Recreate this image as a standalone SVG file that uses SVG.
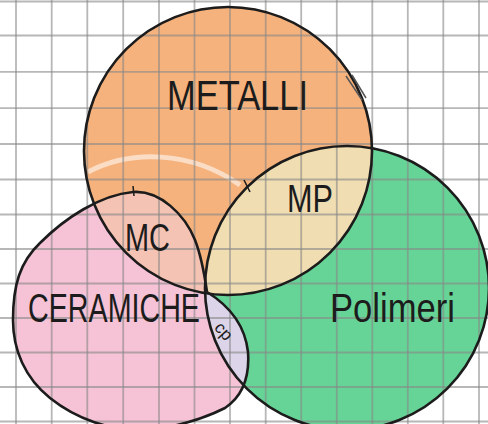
<svg xmlns="http://www.w3.org/2000/svg" width="488" height="424" viewBox="0 0 488 424">
  <defs>
    <style>
      .outline { fill: none; stroke: #1c1c1c; stroke-width: 2.6; stroke-linejoin: round; }
      .grid line { stroke: #888888; stroke-width: 1.8; opacity: 0.6; }
      .lbl { font-family: "Liberation Sans", "DejaVu Sans", sans-serif; fill: #1c1c1c; }
    </style>
    <path id="shapeC" d="M 13,320 C 13,285 20,262 40,243 C 65,218 100,195 133,192 C 160,190 185,215 195,240 C 202,258 205,278 207,292 C 228,305 245,325 248,352 C 250,380 240,398 225,408 C 205,418 180,426 150,430 C 110,432 75,418 50,398 C 25,378 13,350 13,320 Z"/>
    <circle id="shapeM" cx="228" cy="151" r="144"/>
    <circle id="shapeP" cx="347" cy="288" r="142"/>
    <clipPath id="clipM"><use href="#shapeM"/></clipPath>
    <clipPath id="clipP"><use href="#shapeP"/></clipPath>
    <clipPath id="clipC"><use href="#shapeC"/></clipPath>
  </defs>

  <rect width="488" height="424" fill="#ffffff"/>

  <!-- fills -->
  <g id="fills">
    <use href="#shapeM" fill="#f6b27c"/>
    <use href="#shapeP" fill="#66d497"/>
    <use href="#shapeC" fill="#f6c2d5"/>
    <!-- overlaps -->
    <use href="#shapeP" fill="#f1ddb2" clip-path="url(#clipM)"/>
    <use href="#shapeC" fill="#f5c3b4" clip-path="url(#clipM)"/>
    <g clip-path="url(#clipP)"><use href="#shapeC" fill="#dcd4e8"/></g>
    <!-- eraser mark -->
    <path d="M 88,172 C 130,150 190,150 240,185" fill="none" stroke="#ffffff" stroke-width="5" opacity="0.55"/>
  </g>

  <!-- grid paper -->
  <g class="grid">
    <line x1="16" y1="0" x2="16" y2="424"/>
    <line x1="51.7" y1="0" x2="51.7" y2="424"/>
    <line x1="87.3" y1="0" x2="87.3" y2="424"/>
    <line x1="123.2" y1="0" x2="123.2" y2="424"/>
    <line x1="159" y1="0" x2="159" y2="424"/>
    <line x1="194.5" y1="0" x2="194.5" y2="424"/>
    <line x1="230" y1="0" x2="230" y2="424"/>
    <line x1="265.7" y1="0" x2="265.7" y2="424"/>
    <line x1="301.2" y1="0" x2="301.2" y2="424"/>
    <line x1="336.8" y1="0" x2="336.8" y2="424"/>
    <line x1="372.3" y1="0" x2="372.3" y2="424"/>
    <line x1="407.8" y1="0" x2="407.8" y2="424"/>
    <line x1="443.3" y1="0" x2="443.3" y2="424"/>
    <line x1="479" y1="0" x2="479" y2="424"/>
    <line x1="0" y1="1.5" x2="488" y2="1.5"/>
    <line x1="0" y1="35.5" x2="488" y2="35.5"/>
    <line x1="0" y1="71.8" x2="488" y2="71.8"/>
    <line x1="0" y1="108.2" x2="488" y2="108.2"/>
    <line x1="0" y1="144" x2="488" y2="144"/>
    <line x1="0" y1="179.5" x2="488" y2="179.5"/>
    <line x1="0" y1="214.5" x2="488" y2="214.5"/>
    <line x1="0" y1="249" x2="488" y2="249"/>
    <line x1="0" y1="283.5" x2="488" y2="283.5"/>
    <line x1="0" y1="318" x2="488" y2="318"/>
    <line x1="0" y1="352.5" x2="488" y2="352.5"/>
    <line x1="0" y1="387" x2="488" y2="387"/>
    <line x1="0" y1="421.5" x2="488" y2="421.5"/>
  </g>

  <!-- sets -->
  <g id="metalli">
    <use href="#shapeM" class="outline"/>
    <text class="lbl" x="167" y="110" font-size="42" textLength="141" lengthAdjust="spacingAndGlyphs">METALLI</text>
  </g>
  <g id="polimeri">
    <use href="#shapeP" class="outline"/>
    <text class="lbl" x="330" y="322" font-size="40" textLength="125" lengthAdjust="spacingAndGlyphs">Polimeri</text>
  </g>
  <g id="ceramiche">
    <use href="#shapeC" class="outline"/>
    <text class="lbl" x="28" y="322" font-size="41" textLength="172" lengthAdjust="spacingAndGlyphs">CERAMICHE</text>
  </g>

  <!-- overlaps -->
  <g id="mc">
    <text class="lbl" x="125" y="251" font-size="38" textLength="45" lengthAdjust="spacingAndGlyphs">MC</text>
  </g>
  <g id="mp">
    <text class="lbl" x="287" y="212" font-size="38" textLength="46" lengthAdjust="spacingAndGlyphs">MP</text>
  </g>
  <g id="cp">
    <text class="lbl" x="224" y="337" font-size="17" text-anchor="middle" transform="rotate(48 224 331)">cp</text>
  </g>

  <!-- small pencil marks -->
  <g id="marks" stroke="#1c1c1c" stroke-width="1.5" fill="none">
    <path d="M 244,180 L 250,192"/>
    <path d="M 346,76 L 362,100 M 352,75 L 366,98" stroke="#555555"/>
    <path d="M 133,186 L 134,196"/>
  </g>
</svg>
